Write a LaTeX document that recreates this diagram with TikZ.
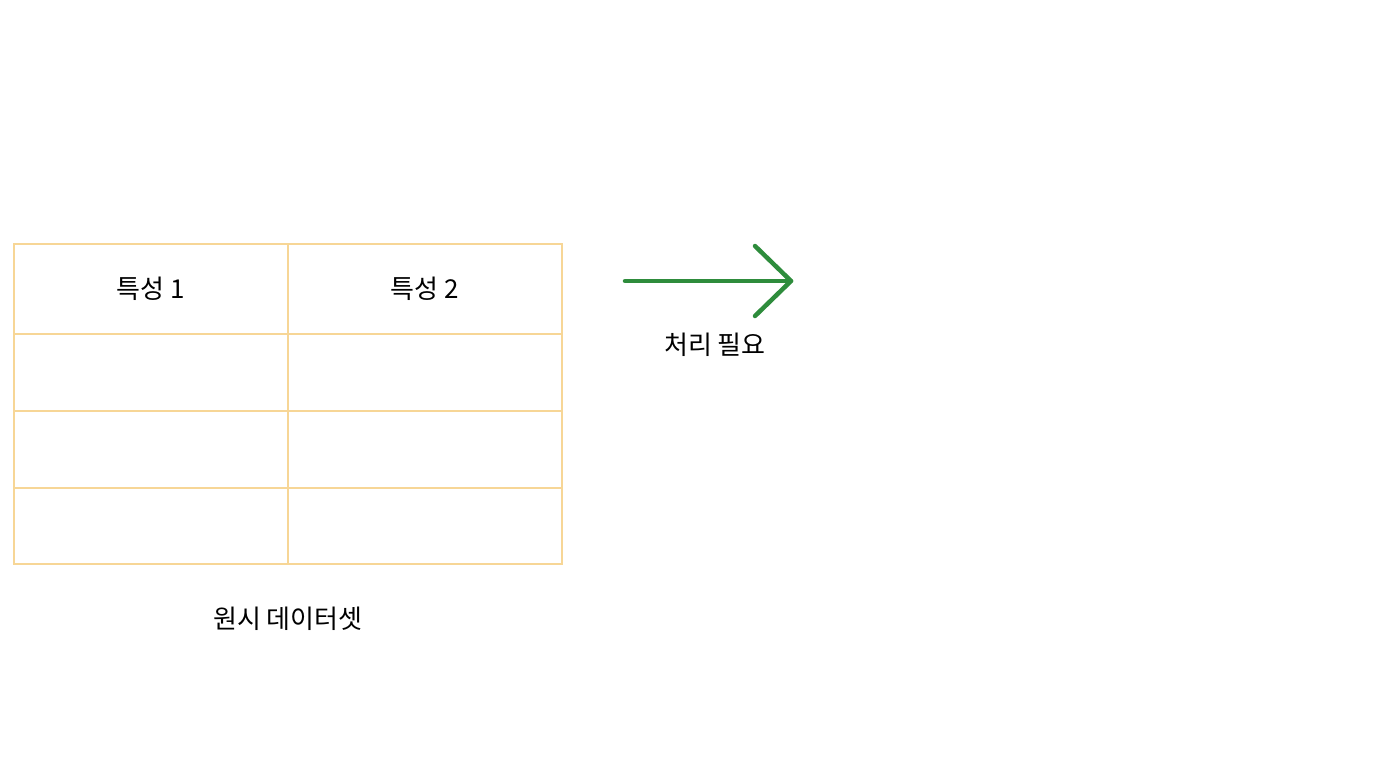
\documentclass[tikz,border=0pt]{standalone}
\usepackage{fontspec}
\setmainfont{Noto Sans CJK KR}
\begin{document}
\begin{tikzpicture}[x=1pt,y=-1pt,
  grid/.style={draw={rgb,255:red,247;green,214;blue,150},line width=2.5pt},
  lbl/.style={font=\fontsize{26}{30}\selectfont,text=black},
  arr/.style={draw={rgb,255:red,46;green,140;blue,60},line width=4.5pt,line cap=round,line join=round}]
\useasboundingbox (0,0) rectangle (1376,768);
\draw[grid] (14,244) rectangle (562,564);
\draw[grid] (288,244) -- (288,564);
\foreach \y in {334,411,488} \draw[grid] (14,\y) -- (562,\y);
\node[lbl] (h1) at (151,289) {특성 1};
\node[lbl] (h2) at (425,289) {특성 2};
\node[lbl] (cap) at (288,619) {원시 데이터셋};
\coordinate (a0) at (625,281);
\coordinate (a1) at (791,281);
\draw[arr] (a0) -- (a1);
\draw[arr] (755,246) -- (a1) -- (755,316);
\node[lbl] (al) at (715,345) {처리 필요};
\end{tikzpicture}
\end{document}
